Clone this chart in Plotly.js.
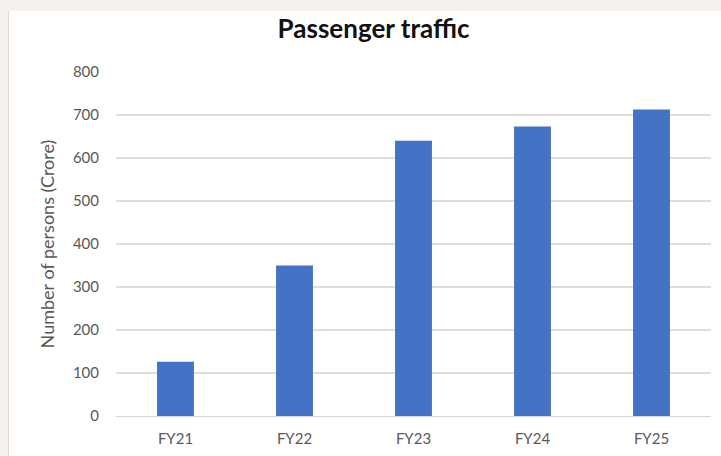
<!DOCTYPE html>
<html>
<head>
<meta charset="utf-8">
<script src="https://cdn.plot.ly/plotly-3.0.1.min.js"></script>
<style>
  html, body { margin: 0; padding: 0; background: #f4f1ee; width: 721px; height: 456px; overflow: hidden; }
  #chart { position: absolute; left: 8px; top: 11px; width: 713px; height: 445px; background: #ffffff; border-left: 1px solid #dcdad8; }
</style>
</head>
<body>
<div id="chart"></div>
<script>
const categories = ["FY21", "FY22", "FY23", "FY24", "FY25"];
const passengers = [126, 350, 640, 673, 713];
const yTicks = [0, 100, 200, 300, 400, 500, 600, 700, 800];

const trace = {
  type: "bar",
  x: categories,
  y: passengers,
  marker: { color: "#4472c4" },
  hoverinfo: "x+y"
};

const font = "Lato, 'Noto Sans', sans-serif";

const layout = {
  width: 712,
  height: 445,
  paper_bgcolor: "#ffffff",
  plot_bgcolor: "#ffffff",
  margin: { l: 107, r: 10, t: 61, b: 40 },
  bargap: 0.69,
  showlegend: false,
  title: {
    text: "<b>Passenger traffic</b>",
    font: { family: font, size: 26, color: "#111111" },
    x: 0.512, xanchor: "center", y: 0.96, yanchor: "middle"
  },
  xaxis: {
    type: "category",
    showline: true, linecolor: "#d6d6d6", linewidth: 1,
    showgrid: false, ticks: "",
    tickfont: { family: font, size: 15, color: "#595959" },
    ticklabelstandoff: 9
  },
  yaxis: {
    range: [0, 800],
    tickvals: yTicks,
    ticktext: yTicks.map(String),
    showgrid: true, gridcolor: "#dedede", gridwidth: 1.2,
    zeroline: false, showline: false, ticks: "",
    tickfont: { family: font, size: 15, color: "#595959" },
    ticklabelstandoff: 16,
    title: {
      text: "Number of persons (Crore)",
      font: { family: font, size: 18, color: "#595959" },
      standoff: 13
    }
  }
};

Plotly.newPlot("chart", [trace], layout, { displayModeBar: false, staticPlot: true });
</script>
</body>
</html>
